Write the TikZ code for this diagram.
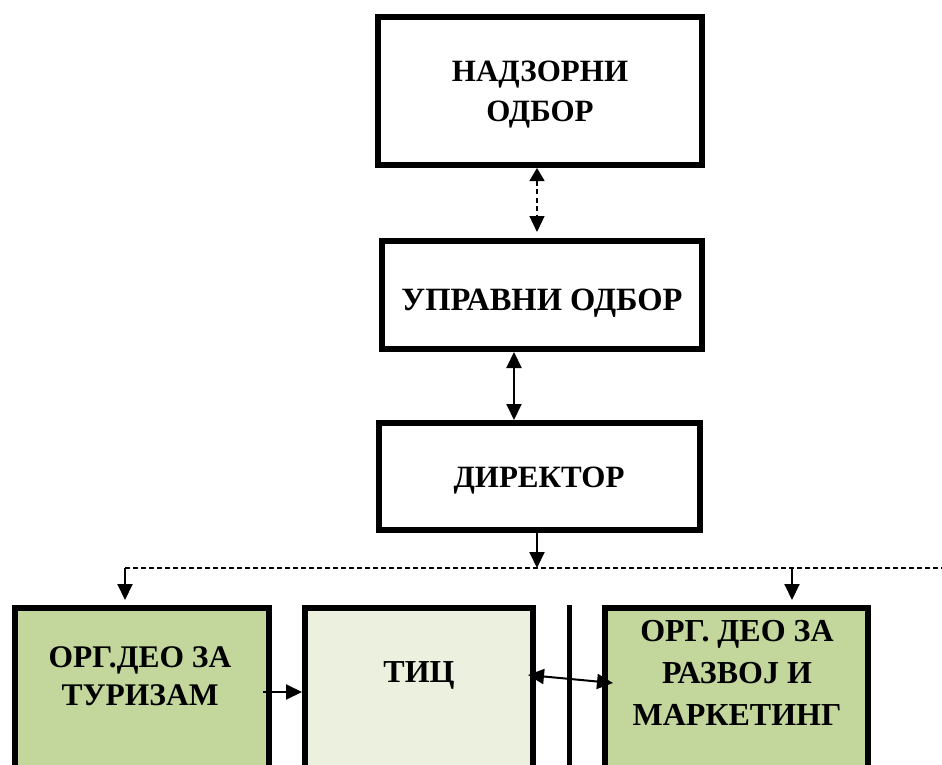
\documentclass[tikz,border=0pt]{standalone}
\usepackage{fontspec}
\setmainfont{Liberation Serif}
\usetikzlibrary{arrows.meta,calc}
\definecolor{boxgreen}{HTML}{C3D69B}
\definecolor{boxlight}{HTML}{EBF1DE}
\begin{document}
\begin{tikzpicture}[x=1pt,y=-1pt,
  box/.style={draw=black,line width=6pt,rectangle,inner sep=0pt,anchor=north west},
  lbl/.style={inner sep=0pt,align=center,font=\fontsize{31}{40}\selectfont\bfseries},
  arr/.style={line width=2pt,-{Triangle[length=16pt,width=15pt]}},
  darr/.style={line width=2pt,{Triangle[length=16pt,width=15pt]}-{Triangle[length=16pt,width=15pt]}},
  dashline/.style={line width=1.3pt,dash pattern=on 5pt off 3pt}]
\useasboundingbox (0,0) rectangle (942,765);
\clip (0,0) rectangle (942,765);
\fill[white] (0,0) rectangle (942,765);

% boxes
\node[box,minimum width=324pt,minimum height=148pt] (nad) at (375,14) {};
\node[box,minimum width=320pt,minimum height=108pt] (upr) at (379,238) {};
\node[box,minimum width=321pt,minimum height=107pt] (dir) at (376,420) {};
\node[box,fill=boxgreen,minimum width=254pt,minimum height=300pt] (A) at (12,605) {};
\node[box,fill=boxlight,minimum width=228pt,minimum height=300pt] (B) at (302,605) {};
\node[box,fill=boxgreen,minimum width=263pt,minimum height=300pt] (C) at (602,605) {};

% texts
\node[lbl] (tnad) at (540,95) {НАДЗОРНИ\\ОДБОР};
\node[lbl,font=\fontsize{32.5}{40}\selectfont\bfseries] (tupr) at (542,303) {УПРАВНИ ОДБОР};
\node[lbl] (tdir) at (539,481) {ДИРЕКТОР};
\node[lbl,font=\fontsize{31.5}{38}\selectfont\bfseries] (tA) at (140,676) {ОРГ.ДЕО ЗА\\ТУРИЗАМ};
\node[lbl,font=\fontsize{32}{40}\selectfont\bfseries] (tB) at (419,675) {ТИЦ};
\node[lbl,font=\fontsize{32}{42}\selectfont\bfseries] (tC) at (737,673) {ОРГ. ДЕО ЗА\\РАЗВОЈ И\\МАРКЕТИНГ};

% connectors
\draw[line width=1.4pt,dash pattern=on 5pt off 3.5pt,
  {Triangle[length=13pt,width=15pt]}-{Triangle[length=16pt,width=15pt]}]
  ($(nad.south)+(-3,0)$) -- ($(upr.north)+(-5,-6)$);
\draw[darr] ($(upr.south)+(-28,0)$) -- ($(dir.north)+(-25.5,0)$);

\coordinate (j) at (537,568);
\coordinate (jl) at (125,568);
\coordinate (jc) at (792,568);
\coordinate (jr) at (950,568);
\draw[arr] ($(dir.south)+(-2.5,0)$) -- (j);
\draw[dashline] (jl) -- (jr);
\draw[arr,shorten >=5pt] (jl) -- (jl |- A.north);
\draw[arr,shorten >=5pt] (jc) -- (jc |- C.north);

\draw[arr] ($(A.north east)+(-9,87)$) -- ($(B.north west)+(0,87)$);
\draw[darr] ($(B.north east)+(-8,70)$) -- ($(C.north west)+(11,78)$);

\coordinate (vt) at (569,605);
\coordinate (vb) at (569,800);
\draw[line width=5pt] (vt) -- (vb);
\end{tikzpicture}
\end{document}
